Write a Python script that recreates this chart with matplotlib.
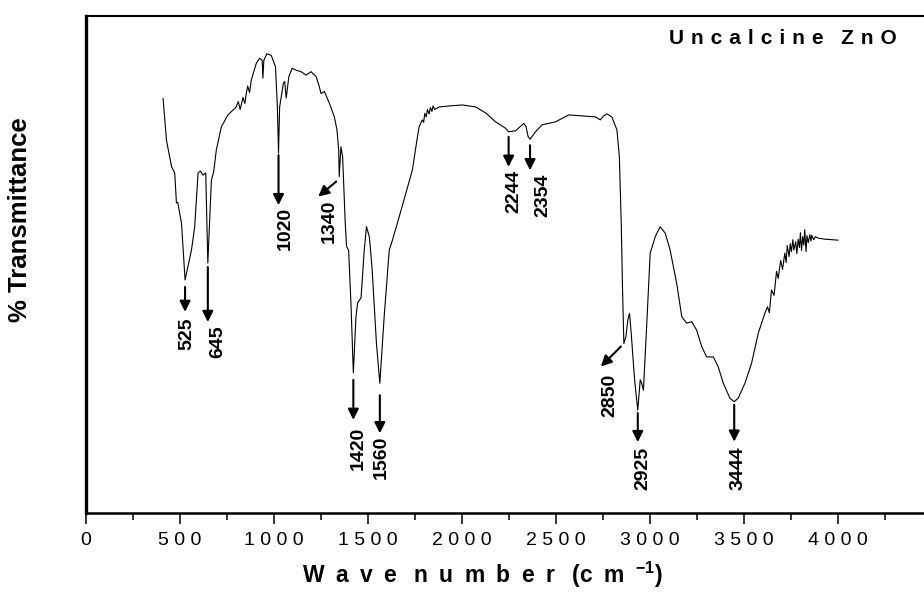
import matplotlib
matplotlib.use("Agg")
import matplotlib.pyplot as plt
from matplotlib.transforms import offset_copy

plt.rcParams['font.family'] = ['Liberation Sans', 'DejaVu Sans']
plt.rcParams['mathtext.fontset'] = 'custom'
plt.rcParams['mathtext.rm'] = 'Liberation Sans'
plt.rcParams['mathtext.bf'] = 'Liberation Sans:bold'

# FTIR spectrum (wavenumber in cm-1, transmittance in arbitrary %)
wavenumber = [410, 428, 455, 472, 481, 488, 508, 527, 561, 578, 596, 608, 622, 637, 648,
              667, 679, 693, 720, 755, 799, 810, 820, 835, 845, 853, 860, 870, 879, 906,
              923, 937, 941, 946, 962, 985, 1008, 1018, 1024, 1030, 1050, 1057, 1065, 1079,
              1097, 1118, 1144, 1171, 1197, 1224, 1241, 1250, 1268, 1294, 1321, 1335, 1344,
              1347, 1356, 1365, 1379, 1386, 1397, 1410, 1422, 1436, 1445, 1463, 1480, 1492,
              1507, 1521, 1545, 1563, 1586, 1613, 1630, 1666, 1701, 1736, 1763, 1772, 1789,
              1796, 1802, 1810, 1816, 1825, 1832, 1840, 1846, 1855, 1878, 1931, 2002, 2073,
              2126, 2179, 2232, 2248, 2285, 2329, 2341, 2352, 2362, 2391, 2426, 2497, 2568,
              2638, 2709, 2736, 2753, 2771, 2797, 2824, 2837, 2847, 2854, 2861, 2872, 2882,
              2891, 2900, 2918, 2935, 2948, 2956, 2965, 2983, 3001, 3028, 3054, 3081, 3107,
              3142, 3169, 3195, 3222, 3248, 3275, 3301, 3337, 3363, 3390, 3425, 3448, 3469,
              3505, 3540, 3576, 3611, 3625, 3635, 3646, 3660, 3673, 3682, 3695, 3705, 3717,
              3724, 3730, 3740, 3746, 3752, 3760, 3765, 3775, 3781, 3788, 3795, 3800, 3806,
              3812, 3818, 3823, 3830, 3835, 3842, 3850, 3856, 3860, 3870, 3880, 3894, 3929, 4000]
transmittance = [83.4, 75.0, 69.7, 68.4, 62.4, 62.5, 58.3, 46.9, 52.9, 57.5, 68.4, 68.8, 68.0, 68.4, 50.3,
                 67.0, 68.6, 73.0, 77.7, 80.1, 81.7, 82.8, 81.2, 83.6, 82.4, 84.5, 85.9, 84.6, 87.1, 90.5,
                 91.5, 91.1, 87.5, 91.1, 92.4, 92.1, 89.8, 81.7, 72.4, 81.7, 86.5, 86.8, 83.5, 87.8,
                 89.5, 89.1, 88.8, 88.1, 88.8, 87.8, 85.8, 84.4, 84.8, 82.5, 79.7, 77.1, 73.0,
                 67.7, 73.7, 71.7, 58.3, 53.6, 52.9, 41.5, 28.2, 39.5, 42.3, 43.3, 52.9, 57.6,
                 55.6, 49.6, 34.1, 26.1, 39.5, 52.9, 54.9, 59.6, 64.3, 69.0, 75.7, 77.7, 79.1,
                 78.6, 80.4, 79.7, 81.2, 80.3, 81.6, 80.8, 81.9, 81.2, 81.7, 81.9, 82.1, 81.7,
                 80.5, 78.7, 77.4, 76.7, 76.9, 78.4, 77.7, 75.7, 75.2, 76.7, 78.1, 78.7, 80.1,
                 79.9, 79.7, 79.1, 79.9, 80.3, 79.7, 77.1, 71.7, 58.3, 44.9, 34.1, 35.5, 38.8,
                 40.2, 36.2, 26.8, 20.7, 26.8, 26.1, 24.7, 38.2, 52.3, 55.6, 57.6, 56.3, 52.9,
                 46.2, 39.5, 38.2, 38.5, 36.8, 33.5, 31.4, 31.4, 29.4, 26.1, 23.1, 22.4, 23.1,
                 26.1, 30.1, 36.2, 40.2, 41.5, 40.3, 44.9, 43.8, 48.6, 47.2, 50.8, 49.0, 52.3,
                 50.4, 53.8, 51.6, 54.2, 52.6, 55.0, 52.9, 54.6, 52.2, 55.1, 53.4, 56.4, 52.8,
                 55.6, 53.9, 57.0, 52.6, 55.8, 54.4, 56.0, 54.7, 55.9, 55.0, 55.6, 55.3, 55.1, 54.9]

# peak labels: position, arrow start/end offsets (px below peak), label centre x offset, label top offset
peak_labels = ['525', '645', '1020', '1340', '1420', '1560', '2244', '2354', '2850', '2925', '3444']
peak_pos = [527, 648, 1024, 1347, 1422, 1563, 2248, 2362, 2861, 2935, 3448]
arrow_tail = [(0, 7), (0, 4), (0, 2), (-3, 5), (0, 7), (0, 12), (0, 5), (0, 6), (-3, 3), (0, 3), (0, 3)]
arrow_tip = [(0, 32), (0, 59), (0, 52), (-21, 20), (0, 47), (0, 50), (0, 35), (0, 31), (-23, 23), (0, 32), (0, 40)]
label_off = [(2, 38), (10, 62), (7, 54), (-10, 23), (5, 54), (1, 52), (5, 38), (13, 34), (-14, 30), (5, 37), (4, 45)]

xticks = [0, 500, 1000, 1500, 2000, 2500, 3000, 3500, 4000]

EN = '\u2002'
THIRD = '\u2004'
QUARTER = '\u2005'

fig = plt.figure(figsize=(9.24, 5.92), dpi=100)
ax = fig.add_axes([86 / 924, 79 / 592, 846 / 924, 497 / 592])
ax.plot(wavenumber, transmittance, color='black', linewidth=0.8)
ax.set_xlim(0, 4500)
ax.set_ylim(0, 100)

ax.set_xticks(xticks)
ax.set_xticklabels([' '.join(str(t)) for t in xticks], fontsize=14)
ax.set_xticks(range(250, 4500, 500), minor=True)
ax.tick_params(axis='x', which='major', length=8, width=1.1, direction='out', pad=6)
ax.tick_params(axis='x', which='minor', length=5, width=1.1, direction='out')
ax.set_yticks([])
ax.spines['left'].set_linewidth(2.4)
ax.spines['bottom'].set_linewidth(1.8)
ax.spines['top'].set_linewidth(1.5)
ax.spines['right'].set_visible(False)

for lab, pos, tail, tip, off in zip(peak_labels, peak_pos, arrow_tail, arrow_tip, label_off):
    i = wavenumber.index(pos)
    pt = (pos, transmittance[i])
    ax.annotate('', xy=pt, xytext=pt,
                xycoords=offset_copy(ax.transData, fig=fig, x=tip[0], y=-tip[1], units='dots'),
                textcoords=offset_copy(ax.transData, fig=fig, x=tail[0], y=-tail[1], units='dots'),
                arrowprops=dict(arrowstyle='-|>', color='black', lw=1.5, mutation_scale=16,
                                shrinkA=0, shrinkB=0))
    ax.text(pos, transmittance[i], lab, rotation=90, ha='center', va='top',
            fontsize=14, fontweight='bold',
            transform=offset_copy(ax.transData, fig=fig, x=off[0], y=-off[1], units='dots'))

title = (THIRD.join('Uncalcine') + EN + THIRD + THIRD.join('ZnO'))
fig.text(897 / 924, 1 - 39 / 592, title, ha='right', va='center',
         fontsize=15, fontweight='bold')

xlab = (EN.join('Wave') + EN + QUARTER + EN.join('number') + EN + QUARTER
        + '(' + EN.join('cm') + EN + r'$\mathbf{^{-1}}$' + ')')
fig.text(482 / 924, 1 - 575 / 592, xlab, ha='center', va='center',
         fontsize=16.5, fontweight='bold')
fig.text(20 / 924, 1 - 220 / 592, '% Transmittance', rotation=90, ha='center', va='center',
         fontsize=18.5, fontweight='bold')

fig.savefig('out.png', dpi=100)
